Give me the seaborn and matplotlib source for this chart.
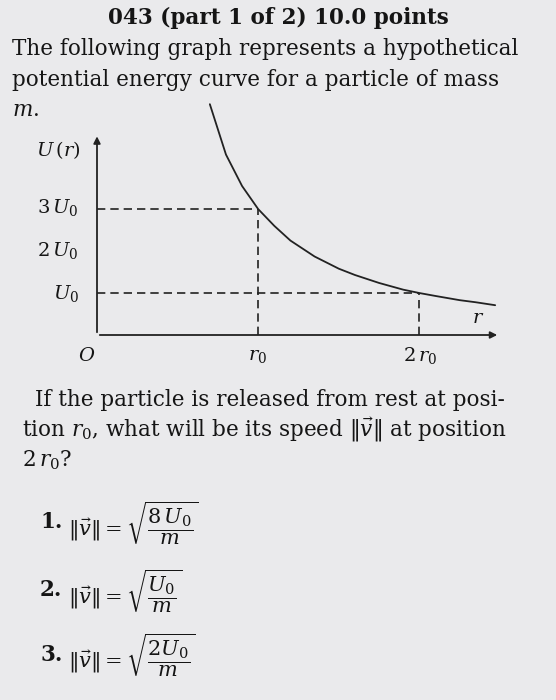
import matplotlib.pyplot as plt
import seaborn as sns
import pandas as pd

# curve (r in units of r0, U in units of U0)
r_vals = [0.70, 0.80, 0.90, 1.00, 1.10, 1.20, 1.35, 1.50, 1.60, 1.75,
          1.90, 2.00, 2.10, 2.25, 2.35, 2.47]
u_vals = [5.50, 4.30, 3.55, 3.00, 2.60, 2.25, 1.87, 1.58, 1.43, 1.24,
          1.08, 1.00, 0.93, 0.83, 0.78, 0.71]

answers = [r"$\|\vec{v}\| = \sqrt{\dfrac{8\,U_0}{m}}$",
           r"$\|\vec{v}\| = \sqrt{\dfrac{U_0}{m}}$",
           r"$\|\vec{v}\| = \sqrt{\dfrac{2U_0}{m}}$"]

sns.set_style("white")
plt.rcParams['font.family'] = ['DejaVu Serif']
plt.rcParams['mathtext.fontset'] = 'dejavuserif'

W, H = 556, 700
fig = plt.figure(figsize=(W / 100, H / 100), dpi=100, facecolor='#eaeaec')


def txt(x, y, s, **kw):
    kw.setdefault('fontsize', 15.5)
    kw.setdefault('va', 'center')
    fig.text(x / W, 1 - y / H, s, color='#151515', **kw)


txt(278, 18, "043 (part 1 of 2) 10.0 points", ha='center', fontweight='bold')
txt(12, 49, "The following graph represents a hypothetical")
txt(12, 80, "potential energy curve for a particle of mass")
txt(12, 110, r"$m$.")

# graph
ax = fig.add_axes([97 / W, 1 - 335 / H, (500 - 97) / W, (335 - 100) / H])
ax.set_facecolor('none')
df = pd.DataFrame({'r': r_vals, 'U': u_vals})
sns.lineplot(data=df, x='r', y='U', ax=ax, color='#222222', lw=1.3)
ax.set_xlim(0, 2.5)
ax.set_ylim(0, 5.6)
ax.axis('off')
ax.annotate('', xy=(2.5, 0), xytext=(0, 0),
            arrowprops=dict(arrowstyle='-|>', color='#222222', lw=1.3))
ax.annotate('', xy=(0, 4.8), xytext=(0, 0),
            arrowprops=dict(arrowstyle='-|>', color='#222222', lw=1.3))
dash = dict(ls=(0, (5, 3)), color='#222222', lw=1.2)
ax.plot([0, 1], [3, 3], **dash)
ax.plot([1, 1], [0, 3], **dash)
ax.plot([0, 2], [1, 1], **dash)
ax.plot([2, 2], [0, 1], **dash)

txt(58, 150, r"$U\,(r)$", ha='center', fontsize=14)
txt(58, 208, r"$3\,U_0$", ha='center', fontsize=14)
txt(58, 250, r"$2\,U_0$", ha='center', fontsize=14)
txt(66, 293, r"$U_0$", ha='center', fontsize=14)
txt(87, 356, r"$O$", ha='center', fontsize=14)
txt(258, 356, r"$r_0$", ha='center', fontsize=14)
txt(420, 356, r"$2\,r_0$", ha='center', fontsize=14)
txt(478, 318, r"$r$", ha='center', fontsize=14)

txt(35, 400, "If the particle is released from rest at posi-")
txt(22, 430, r"tion $r_0$, what will be its speed $\|\vec{v}\|$ at position")
txt(22, 460, r"$2\,r_0$?")

for i, (a, y) in enumerate(zip(answers, [522, 590, 655])):
    txt(40, y, f"{i + 1}.", fontweight='bold')
    txt(68, y, a, fontsize=15)

fig.savefig('out.png', dpi=100, facecolor=fig.get_facecolor())
